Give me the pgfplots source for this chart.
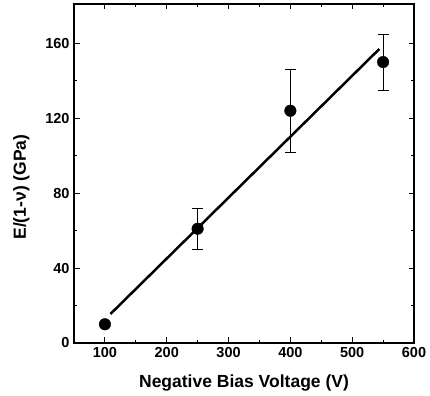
\documentclass[border=0pt]{standalone}
\usepackage{fontspec}
\setmainfont{Liberation Sans}
\usepackage{pgfplots}
\pgfplotsset{compat=1.18}
\begin{document}
\begin{tikzpicture}
\begin{axis}[
  name=main,
  scale only axis,
  width=340pt, height=339pt,
  xmin=50, xmax=600, ymin=0, ymax=181,
  xtick={100,200,300,400,500,600},
  ytick={0,40,80,120,160},
  minor x tick num=1, minor y tick num=1,
  tick align=inside,
  major tick length=5.5pt, minor tick length=3pt,
  tick style={black, line width=0.9pt},
  axis line style={line width=1.4pt},
  /pgf/number format/assume math mode=true,
  ticklabel style={font=\fontsize{14.5}{16}\selectfont\bfseries},
  xticklabel style={anchor=base, yshift=-15pt},
  yticklabel style={xshift=-1pt},
  label style={font=\fontsize{17.5}{20}\selectfont\bfseries},
  xlabel={Negative Bias Voltage (V)},
  ylabel={E/(1-ν) (GPa)},
  xlabel style={at={(axis description cs:0.5,0)}, anchor=base, yshift=-45pt},
  ylabel style={at={(axis description cs:0,0.46)}, anchor=base, yshift=48pt},
  scaled ticks=false,
]
\addplot[black, line width=2.5pt] coordinates {(109,15.5) (544,157)};
\addplot[black, only marks, mark=*, mark size=5.8pt,
  error bars/.cd, y dir=both, y explicit, error bar style={line width=0.9pt},
  error mark options={rotate=90, mark size=5.5pt, line width=0.9pt}]
  coordinates {
  (100,10) +- (0,0)
  (250,61) +- (0,11)
  (400,124) +- (0,22)
  (550,150) +- (0,15)
  };
\end{axis}
\path (main.south west) ++(-74pt,-51pt) rectangle ([shift={(16pt,4pt)}]main.north east);
\end{tikzpicture}
\end{document}
